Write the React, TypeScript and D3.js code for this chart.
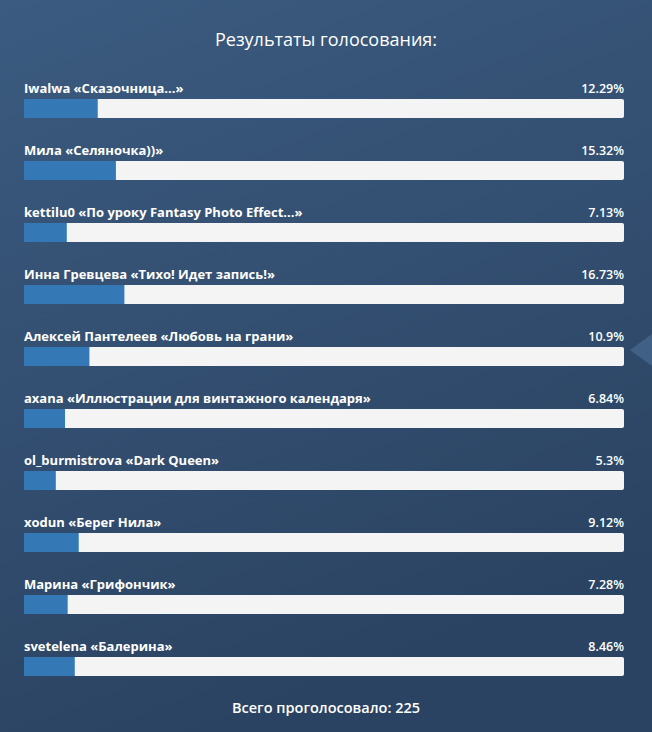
import React from "react";
import * as d3 from "d3";

const names = [
  "Iwalwa «Сказочница...»",
  "Мила «Селяночка))»",
  "kettilu0 «По уроку Fantasy Photo Effect...»",
  "Инна Гревцева «Тихо! Идет запись!»",
  "Алексей Пантелеев «Любовь на грани»",
  "axana «Иллюстрации для винтажного календаря»",
  "ol_burmistrova «Dark Queen»",
  "xodun «Берег Нила»",
  "Марина «Грифончик»",
  "svetelena «Балерина»",
];
const percents = [12.29, 15.32, 7.13, 16.73, 10.9, 6.84, 5.3, 9.12, 7.28, 8.46];
const percentLabels = ["12.29%", "15.32%", "7.13%", "16.73%", "10.9%", "6.84%", "5.3%", "9.12%", "7.28%", "8.46%"];
const title = "Результаты голосования:";
const totalLabel = "Всего проголосовало: 225";

const W = 652;
const H = 732;
const font = "'Open Sans', 'Noto Sans', sans-serif";

export default function App() {
  const x = d3.scaleLinear().domain([0, 100]).range([24, 624]);
  const y = d3.scaleBand<number>()
    .domain(d3.range(names.length))
    .range([76, 696])
    .paddingInner(0);
  const barH = 19;
  const barOffset = 23; // bar top within each band

  return (
    <svg
      width={W}
      height={H}
      style={{ position: "absolute", top: 0, left: 0 }}
      fontFamily={font}
    >
      <defs>
        <linearGradient id="bg" x1="0" y1="0" x2="0.35" y2="1">
          <stop offset="0%" stopColor="#3b5b80" />
          <stop offset="100%" stopColor="#2b4362" />
        </linearGradient>
      </defs>
      <rect width={W} height={H} fill="url(#bg)" />
      <path d="M652,334 L630,350 L652,366 Z" fill="#4d7198" opacity={0.6} />

      <text x={W / 2} y={46} textAnchor="middle" fill="#ffffff" fontSize={18}>
        {title}
      </text>

      {names.map((name, i) => {
        const top = (y(i) as number) + barOffset;
        return (
          <g key={i}>
            <text x={24} y={top - 6} fill="#ffffff" fontSize={13} fontWeight="bold">
              {name}
            </text>
            <text x={624} y={top - 6} textAnchor="end" fill="#ffffff" fontSize={12.5} fontWeight={600}>
              {percentLabels[i]}
            </text>
            <rect x={x(0)} y={top} width={x(100) - x(0)} height={barH} rx={2} fill="#f4f4f4" />
            <rect x={x(0)} y={top} width={x(percents[i]) - x(0)} height={barH} fill="#3478b6" />
          </g>
        );
      })}

      <text x={W / 2} y={713} textAnchor="middle" fill="#ffffff" fontSize={14.5} fontWeight={600}>
        {totalLabel}
      </text>
    </svg>
  );
}
